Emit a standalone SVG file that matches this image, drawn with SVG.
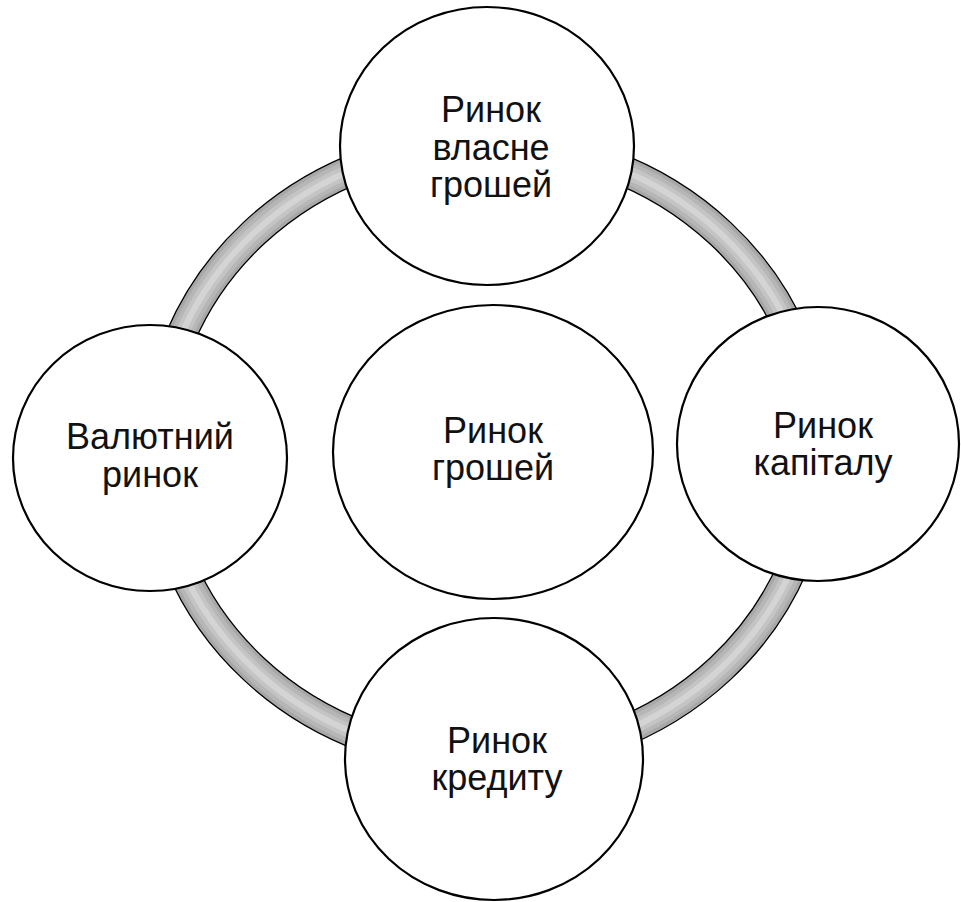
<svg xmlns="http://www.w3.org/2000/svg" width="961" height="902" viewBox="0 0 961 902">
<style>
.node{fill:#ffffff;stroke:#000000;stroke-width:2.2}
.lbl{font-family:"Liberation Sans",Arial,sans-serif;font-size:36px;fill:#111111;text-anchor:middle}
.ring{fill:none}
</style>
<rect width="961" height="902" fill="#ffffff"/>
<g id="connectors">
<ellipse class="ring" cx="487" cy="451" rx="330" ry="308" stroke="#000000" stroke-width="31"/>
<ellipse class="ring" cx="487" cy="451" rx="330" ry="308" stroke="#a8a8a8" stroke-width="28.4"/>
<ellipse class="ring" cx="487" cy="451" rx="330" ry="308" stroke="#b6b6b6" stroke-width="22"/>
<ellipse class="ring" cx="487" cy="451" rx="330" ry="308" stroke="#c4c4c4" stroke-width="14"/>
<ellipse class="ring" cx="487" cy="451" rx="330" ry="308" stroke="#d4d4d4" stroke-width="6"/>
</g>
<g id="node-top">
<ellipse class="node" cx="487" cy="146" rx="147" ry="139"/>
<text class="lbl" x="491" y="122">Ринок</text>
<text class="lbl" x="491" y="160">власне</text>
<text class="lbl" x="491" y="197">грошей</text>
</g>
<g id="node-left">
<ellipse class="node" cx="150" cy="458" rx="137" ry="133"/>
<text class="lbl" x="150" y="449">Валютний</text>
<text class="lbl" x="150" y="487">ринок</text>
</g>
<g id="node-right">
<ellipse class="node" cx="818" cy="444" rx="141" ry="137"/>
<text class="lbl" x="823" y="438">Ринок</text>
<text class="lbl" x="823" y="475">капіталу</text>
</g>
<g id="node-bottom">
<ellipse class="node" cx="494" cy="759" rx="149" ry="141"/>
<text class="lbl" x="497" y="753">Ринок</text>
<text class="lbl" x="497" y="790">кредиту</text>
</g>
<g id="node-center">
<ellipse class="node" cx="493" cy="452" rx="160" ry="147"/>
<text class="lbl" x="493" y="443">Ринок</text>
<text class="lbl" x="493" y="480">грошей</text>
</g>
</svg>
